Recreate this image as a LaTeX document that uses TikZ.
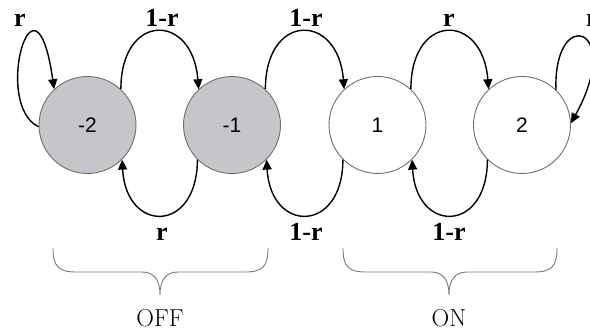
\documentclass[tikz,border=0pt]{standalone}
\usepackage{fontspec}
\newfontfamily\lblfont{Liberation Serif}
\newfontfamily\numfont{Liberation Sans}
\usetikzlibrary{arrows.meta}
\definecolor{offfill}{RGB}{198,197,202}
\definecolor{rimgray}{RGB}{110,110,110}
\definecolor{bracegray}{RGB}{120,120,120}
\tikzset{
  state/.style={circle, draw=rimgray, line width=0.9pt, minimum size=97pt, inner sep=0pt,
    font=\numfont\fontsize{21}{24}\selectfont},
  offstate/.style={state, fill=offfill},
  onstate/.style={state, fill=white},
  trans/.style={line width=1.4pt, -{Triangle[length=10pt,width=9pt]}},
  prob/.style={font=\lblfont\bfseries\fontsize{26}{30}\selectfont, inner sep=0pt, anchor=base},
  groupbrace/.style={draw=bracegray, line width=0.9pt},
  grouplabel/.style={font=\fontsize{24.5}{28}\selectfont, inner sep=0pt, anchor=base}
}
\begin{document}
\begin{tikzpicture}[x=1pt, y=-1pt]
  \useasboundingbox (0,0) rectangle (590,332);

  % states
  \node[offstate] (m2) at (87.5,125) {-2};
  \node[offstate] (m1) at (232,125) {-1};
  \node[onstate]  (p1) at (377.5,125) {1};
  \node[onstate]  (p2) at (522,125) {2};

  % forward transitions over the top
  \draw[trans] (m2.47) .. controls +(0,-77) and +(-6,-77) .. (m1.133);
  \draw[trans] (m1.47) .. controls +(0,-77) and +(-6,-77) .. (p1.133);
  \draw[trans] (p1.47) .. controls +(0,-77) and +(-6,-77) .. (p2.133);

  % backward transitions underneath
  \draw[trans] (m1.225) .. controls +(0,74) and +(4,74) .. (m2.315);
  \draw[trans] (p1.225) .. controls +(0,74) and +(4,74) .. (m1.315);
  \draw[trans] (p2.225) .. controls +(0,74) and +(4,74) .. (p1.315);

  % self loops at both ends
  \draw[trans] (m2.182) .. controls (-8,105) and (35,-45) .. (m2.133);
  \draw[trans] (p2.46) .. controls (553,5) and (625,25) .. (p2.2);

  % transition probabilities
  \node[prob] (t0) at (20,27) {r};
  \node[prob] (t1) at (162,27) {1-r};
  \node[prob] (t2) at (306,27) {1-r};
  \node[prob] (t3) at (449,27) {r};
  \node[prob] (t4) at (592,27) {r};
  \node[prob] (b1) at (162,240) {r};
  \node[prob] (b2) at (306,240) {1-r};
  \node[prob] (b3) at (449,240) {1-r};

  % group braces
  \draw[groupbrace] (53,248) .. controls (53,266) and (58,272) .. (76,272) -- (142,272)
    .. controls (154,272) and (160,280) .. (160,295)
    .. controls (160,280) and (166,272) .. (178,272) -- (245,272)
    .. controls (263,272) and (268,266) .. (268,248);
  \draw[groupbrace] (343,248) .. controls (343,266) and (348,272) .. (366,272) -- (431,272)
    .. controls (443,272) and (449,280) .. (449,295)
    .. controls (449,280) and (455,272) .. (467,272) -- (534,272)
    .. controls (552,272) and (557,266) .. (557,248);
  \node[grouplabel] (off) at (160,326) {OFF};
  \node[grouplabel] (on) at (449,326) {ON};
\end{tikzpicture}
\end{document}
